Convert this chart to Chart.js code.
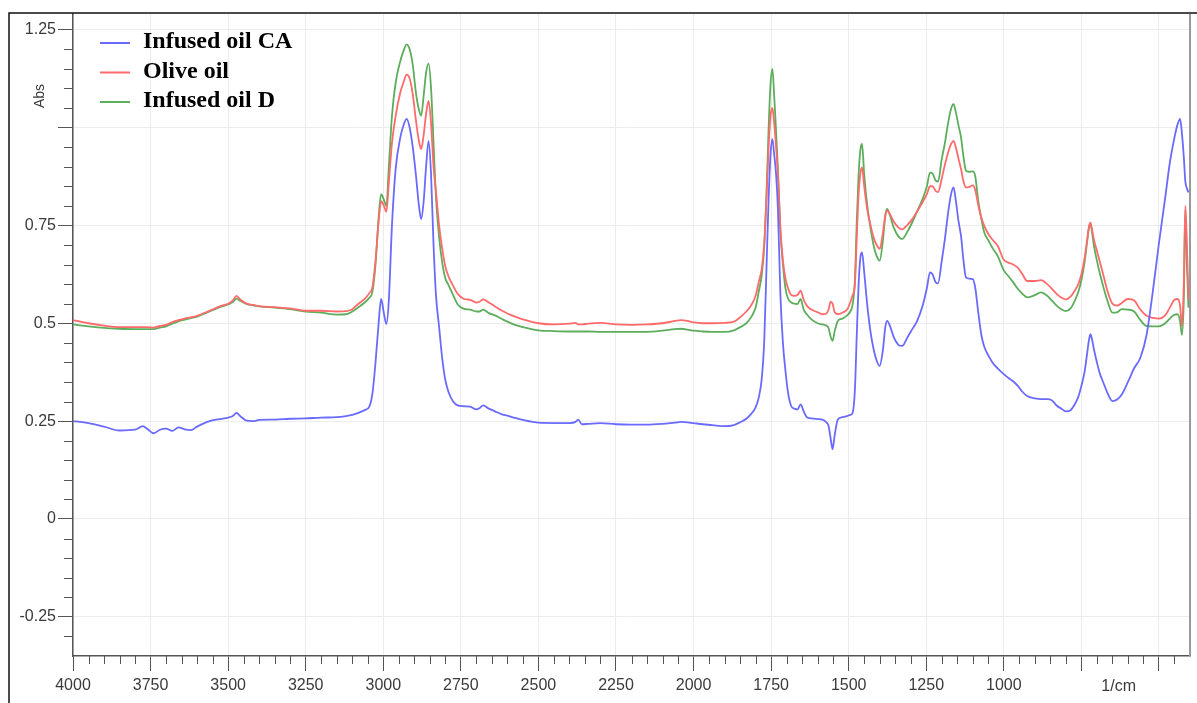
<!DOCTYPE html>
<html>
<head>
<meta charset="utf-8">
<title>FTIR spectra</title>
<script src="https://cdn.jsdelivr.net/npm/chart.js@4/dist/chart.umd.min.js"></script>
<style>
  body { margin: 0; background: #fff; }
  #wrap { position: relative; width: 1197px; height: 703px; }
</style>
</head>
<body>
<div id="wrap"><canvas id="myChart" width="1197" height="703"></canvas></div>
<script>
// wavenumbers (1/cm), shared by the three spectra
var wavenumbers = [
  4000, 3950, 3900, 3850, 3800, 3775, 3760, 3740, 3720, 3700,
  3680, 3660, 3640, 3620, 3600, 3560, 3520, 3500, 3485, 3473,
  3460, 3440, 3420, 3400, 3350, 3300, 3250, 3200, 3150, 3120,
  3100, 3080, 3060, 3045, 3035, 3025, 3015, 3007, 2998, 2990,
  2982, 2972, 2960, 2945, 2935, 2925, 2915, 2905, 2895, 2885,
  2878, 2870, 2862, 2854, 2846, 2838, 2830, 2820, 2810, 2800,
  2790, 2775, 2760, 2740, 2720, 2700, 2690, 2678, 2660, 2640,
  2620, 2600, 2575, 2550, 2500, 2450, 2400, 2380, 2372, 2360,
  2340, 2300, 2250, 2200, 2150, 2100, 2060, 2040, 2020, 2000,
  1970, 1940, 1900, 1870, 1850, 1830, 1815, 1800, 1790, 1780,
  1772, 1765, 1758, 1752, 1746, 1740, 1734, 1728, 1720, 1712,
  1704, 1695, 1685, 1675, 1665, 1655, 1645, 1635, 1620, 1600,
  1585, 1572, 1565, 1558, 1552, 1545, 1535, 1520, 1505, 1495,
  1488, 1480, 1474, 1468, 1462, 1457, 1450, 1440, 1430, 1420,
  1410, 1400, 1390, 1382, 1376, 1368, 1355, 1340, 1328, 1310,
  1295, 1280, 1262, 1248, 1238, 1230, 1220, 1212, 1200, 1190,
  1180, 1170, 1162, 1155, 1146, 1138, 1130, 1122, 1112, 1100,
  1092, 1082, 1072, 1063, 1050, 1035, 1020, 1000, 985, 970,
  955, 940, 925, 900, 880, 860, 845, 830, 815, 800,
  785, 770, 760, 750, 740, 732, 726, 721, 716, 710,
  700, 690, 680, 665, 650, 635, 620, 600, 580, 560,
  540, 520, 500, 480, 465, 450, 440, 432, 426, 420,
  415, 410, 405
];

var absInfusedCA = [
  .250, .245, .236, .226, .228, .237, .230, .219, .228, .231,
  .225, .234, .229, .227, .236, .250, .256, .259, .263, .271,
  .262, .251, .250, .253, .254, .256, .257, .259, .260, .263,
  .266, .271, .278, .287, .320, .400, .500, .562, .525, .498,
  .560, .750, .895, .975, 1.005, 1.022, 1.000, .950, .880, .800,
  .766, .810, .900, .966, .880, .700, .570, .490, .410, .355,
  .325, .300, .290, .288, .287, .280, .283, .290, .282, .275,
  .268, .264, .258, .253, .246, .245, .245, .248, .254, .242,
  .243, .245, .242, .241, .241, .243, .246, .248, .247, .245,
  .242, .240, .237, .240, .247, .256, .268, .285, .310, .360,
  .459, .640, .820, .930, .970, .930, .880, .790, .570, .450,
  .380, .320, .288, .282, .280, .293, .275, .260, .257, .255,
  .254, .247, .238, .205, .178, .215, .254, .260, .263, .266,
  .270, .330, .470, .600, .670, .681, .630, .545, .480, .435,
  .405, .391, .430, .490, .506, .495, .465, .445, .442, .465,
  .485, .505, .544, .590, .630, .625, .605, .602, .660, .715,
  .780, .830, .847, .815, .760, .723, .660, .617, .614, .613,
  .590, .525, .468, .440, .418, .398, .385, .370, .360, .352,
  .340, .325, .314, .308, .306, .306, .303, .290, .282, .275,
  .278, .295, .312, .340, .375, .420, .455, .472, .460, .435,
  .400, .370, .350, .320, .301, .305, .318, .350, .385, .412,
  .470, .580, .705, .820, .910, .975, 1.008, 1.022, .985, .925,
  .862, .845, .834
];

var absOliveOil = [
  .508, .500, .494, .490, .490, .490, .490, .489, .493, .496,
  .503, .508, .512, .515, .519, .532, .545, .550, .558, .570,
  .560, .550, .547, .544, .541, .538, .532, .532, .530, .531,
  .536, .550, .562, .577, .592, .660, .760, .812, .800, .785,
  .860, .960, 1.030, 1.090, 1.115, 1.135, 1.125, 1.085, 1.020, .965,
  .945, .980, 1.035, 1.068, 1.010, .900, .835, .750, .690, .645,
  .620, .596, .575, .562, .560, .553, .555, .561, .553, .543,
  .533, .525, .517, .510, .500, .497, .499, .501, .497, .497,
  .499, .501, .497, .496, .497, .500, .506, .508, .506, .502,
  .500, .500, .501, .504, .515, .530, .545, .570, .605, .640,
  .707, .820, .950, 1.030, 1.050, 1.010, .950, .880, .740, .660,
  .615, .588, .572, .570, .572, .583, .560, .545, .535, .528,
  .523, .525, .535, .555, .550, .528, .523, .527, .535, .553,
  .570, .600, .720, .830, .885, .898, .850, .790, .752, .720,
  .700, .690, .730, .775, .788, .780, .760, .745, .740, .752,
  .766, .785, .809, .830, .850, .850, .838, .835, .870, .905,
  .935, .958, .966, .950, .920, .894, .862, .847, .848, .852,
  .840, .800, .768, .749, .728, .712, .698, .662, .655, .650,
  .642, .625, .608, .608, .610, .600, .588, .575, .566, .561,
  .568, .585, .600, .625, .665, .710, .745, .757, .740, .715,
  .685, .655, .625, .580, .550, .545, .552, .562, .558, .535,
  .519, .514, .512, .520, .540, .560, .562, .545, .492, .600,
  .800, .700, .560
];

var absInfusedD = [
  .497, .492, .488, .486, .485, .485, .485, .485, .489, .492,
  .499, .505, .509, .513, .517, .530, .543, .548, .554, .563,
  .557, .549, .546, .543, .540, .536, .530, .527, .522, .523,
  .530, .541, .553, .565, .580, .650, .770, .830, .815, .800,
  .900, 1.030, 1.115, 1.170, 1.195, 1.212, 1.200, 1.160, 1.090, 1.045,
  1.030, 1.080, 1.140, 1.163, 1.100, .960, .820, .720, .655, .615,
  .598, .572, .548, .537, .535, .530, .530, .535, .526, .520,
  .512, .504, .496, .490, .482, .480, .479, .479, .479, .479,
  .479, .478, .478, .478, .478, .481, .485, .486, .484, .481,
  .479, .478, .478, .482, .490, .500, .515, .540, .580, .625,
  .698, .830, 1.000, 1.110, 1.150, 1.080, .990, .890, .735, .650,
  .590, .562, .553, .550, .549, .562, .535, .523, .510, .500,
  .497, .494, .488, .465, .455, .480, .506, .512, .520, .530,
  .545, .610, .760, .880, .945, .958, .880, .800, .745, .700,
  .672, .660, .710, .775, .792, .778, .745, .722, .715, .735,
  .758, .785, .817, .850, .885, .883, .865, .862, .920, .960,
  1.010, 1.048, 1.060, 1.040, 1.005, .975, .925, .890, .887, .888,
  .875, .810, .765, .732, .712, .690, .672, .635, .620, .605,
  .588, .575, .566, .572, .579, .570, .558, .545, .536, .531,
  .538, .560, .580, .610, .655, .705, .742, .755, .735, .700,
  .660, .625, .595, .555, .527, .528, .536, .535, .530, .508,
  .493, .492, .492, .500, .512, .522, .523, .505, .470, .560,
  .790, .650, .540
];

var seriesNames = ['Infused oil CA', 'Olive oil', 'Infused oil D'];
var seriesColors = ['#6a6aff', '#ff6a6a', '#5cad5c'];

function toPoints(values) {
    return wavenumbers.map(function (w, i) { return { x: w, y: values[i] }; });
}

var tickFont = { family: "'Liberation Sans', Arial, sans-serif", size: 16 };

// minor ticks, axis captions, legend and frame
var decorations = {
    id: 'decorations',
    afterDraw: function (chart) {
        var ctx = chart.ctx;
        var area = chart.chartArea;
        var x = chart.scales.x;
        var y = chart.scales.y;
        ctx.save();

        ctx.strokeStyle = '#555';
        ctx.lineWidth = 1;
        ctx.beginPath();
        for (var v = 450; v < 4000; v += 50) {
            if (v % 250 === 0) continue;
            var px = Math.round(x.getPixelForValue(v)) + 0.5;
            ctx.moveTo(px, area.bottom);
            ctx.lineTo(px, area.bottom + 8);
        }
        for (var i = -6; i <= 25; i++) {
            if (i % 5 === 0) continue;
            var py = Math.round(y.getPixelForValue(i * 0.05)) + 0.5;
            ctx.moveTo(area.left, py);
            ctx.lineTo(area.left - 9, py);
        }
        ctx.stroke();

        // frame
        ctx.strokeStyle = '#9a9a9a';
        ctx.lineWidth = 2;
        ctx.beginPath();
        ctx.moveTo(area.right, area.top);
        ctx.lineTo(area.right, area.bottom);
        ctx.stroke();
        ctx.strokeStyle = '#111';
        ctx.lineWidth = 1.5;
        ctx.beginPath();
        ctx.moveTo(9, 703);
        ctx.lineTo(9, 13);
        ctx.lineTo(1197, 13);
        ctx.stroke();

        ctx.fillStyle = '#3a3a3a';
        ctx.font = "16px 'Liberation Sans', Arial, sans-serif";
        ctx.textAlign = 'center';
        ctx.textBaseline = 'middle';
        ctx.fillText('1/cm', x.getPixelForValue(630), 687);

        ctx.save();
        ctx.translate(40, 96);
        ctx.rotate(-Math.PI / 2);
        ctx.font = "14px 'Liberation Sans', Arial, sans-serif";
        ctx.fillText('Abs', 0, 0);
        ctx.restore();

        // legend
        ctx.textAlign = 'left';
        ctx.font = "bold 24px 'Liberation Serif', 'Times New Roman', serif";
        chart.data.datasets.forEach(function (ds, k) {
            var ly = 42 + k * 29.5;
            ctx.strokeStyle = ds.borderColor;
            ctx.lineWidth = 2;
            ctx.beginPath();
            ctx.moveTo(100, ly + 1);
            ctx.lineTo(130, ly + 1);
            ctx.stroke();
            ctx.fillStyle = '#000';
            ctx.fillText(ds.label, 143, ly);
        });
        ctx.restore();
    }
};

var ctx = document.getElementById('myChart');

var graphData = {
    type: 'line',
    data: {
        datasets: [absInfusedCA, absOliveOil, absInfusedD].map(function (vals, k) {
            return {
                label: seriesNames[k],
                data: toPoints(vals),
                borderColor: seriesColors[k],
                borderWidth: 1.8,
                pointRadius: 0,
                cubicInterpolationMode: 'monotone',
                fill: false
            };
        })
    },
    options: {
        responsive: false,
        animation: false,
        layout: { padding: { top: 14, right: 7, bottom: 0, left: 0 } },
        plugins: { legend: { display: false }, tooltip: { enabled: false } },
        scales: {
            x: {
                type: 'linear',
                reverse: true,
                min: 400,
                max: 4000,
                afterFit: function (s) { s.height = 47; },
                border: { color: '#555', width: 1.5 },
                grid: { color: '#ececec', tickColor: '#555', tickLength: 15, lineWidth: 1 },
                ticks: {
                    stepSize: 250,
                    includeBounds: false,
                    autoSkip: false,
                    maxRotation: 0,
                    padding: 5,
                    color: '#3a3a3a',
                    font: tickFont,
                    callback: function (v) { return v >= 1000 ? String(v) : ''; }
                }
            },
            y: {
                min: -0.35,
                max: 1.29,
                afterFit: function (s) { s.width = 73; },
                border: { color: '#555', width: 1.5 },
                grid: { color: '#ececec', tickColor: '#555', tickLength: 15, lineWidth: 1 },
                ticks: {
                    stepSize: 0.25,
                    includeBounds: false,
                    padding: 2,
                    color: '#3a3a3a',
                    font: tickFont,
                    callback: function (v) {
                        var r = Math.round(v * 100) / 100;
                        return r === 1 ? '' : String(r);
                    }
                }
            }
        }
    },
    plugins: [decorations]
};

var myChart = new Chart(ctx, graphData);
</script>
</body>
</html>
